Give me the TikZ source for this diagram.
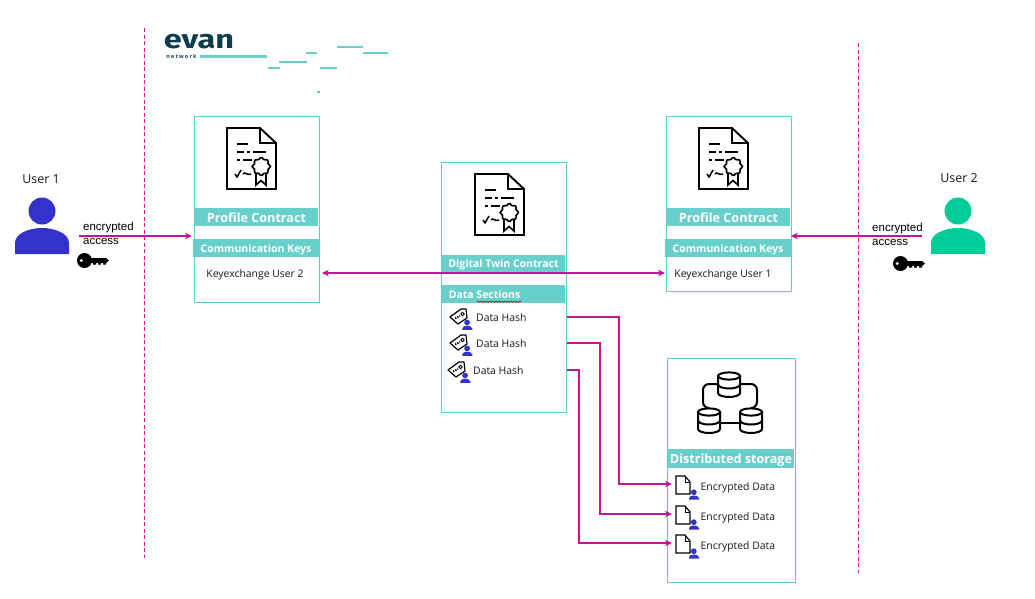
\documentclass[tikz,border=0pt]{standalone}
\usepackage{fontspec}
\setmainfont{Open Sans}
\newfontfamily\arialf{Liberation Sans}
\newfontfamily\logof{Fira Sans}
\usetikzlibrary{arrows.meta,decorations.pathmorphing}
\definecolor{teal}{RGB}{104,208,203}
\definecolor{boxc}{RGB}{96,206,200}
\definecolor{pinkl}{RGB}{198,16,150}
\definecolor{pinkd}{RGB}{226,16,160}
\definecolor{blueu}{RGB}{51,51,204}
\definecolor{greenu}{RGB}{0,204,153}
\definecolor{logoc}{RGB}{15,60,76}
\tikzset{
  x=1pt,y=-1pt,
  card/.style={draw=boxc,line width=.9pt,fill=white,inner sep=0,anchor=north west},
  band/.style={fill=teal,text=white,inner sep=0,font=\bfseries\fontsize{#1}{12}\selectfont,minimum height=18pt,text height={0.714*#1 pt+1pt},text depth=0pt},
  band/.default=12.6,
  lbl/.style={inner sep=0,font=\fontsize{10.4}{12}\selectfont,text=black!90,text height=8.8pt,text depth=0pt},
  ulbl/.style={inner sep=0,font=\fontsize{12.4}{14}\selectfont,text=black!90,text height=10.3pt,text depth=0pt},
  acc/.style={inner sep=0,anchor=west,font=\arialf\fontsize{11.5}{12}\selectfont},
  conn/.style={draw=pinkl,line width=1.5pt,-{Stealth[length=7pt,width=6.5pt]}},
  bound/.style={draw=pinkd,line width=.9pt,dash pattern=on 4pt off 2.5pt},
  dashseg/.style={draw=teal,line width=2.6pt},
  pics/contract/.style={code={
    \begin{scope}[line width=1.9pt,draw=black,line join=miter]
      \draw[fill=white] (0,0) -- (33,0) -- (49,15) -- (49,61) -- (0,61) -- cycle;
      \draw (33,0) -- (33,15) -- (49,15);
      \draw[line width=1.5pt] (10,16) -- (21,16) (10,24) -- (17,24) (20,24) -- (23,24) (26,24) -- (39,24)
        (10,32) -- (13,32) (16,32) -- (25,32);
      \draw[line width=1.5pt] (8,46) -- (10,49) -- (14,42) (16,46) .. controls (18,43) and (20,48) .. (24,46);
      \draw[fill=white,line width=1.6pt] (29,44) -- (29,57) -- (34,52.5) -- (39,57) -- (39,44);
      \draw[fill=white,line width=1.6pt] plot[domain=0:348,samples=30,smooth cycle]
        ({34.3+(8.2+.9*cos(8*\x))*cos(\x)},{38.5+(8.2+.9*cos(8*\x))*sin(\x)});
    \end{scope}}},
  pics/person/.style={code={
    \fill[#1] (4.8,3.2) circle (2.9);
    \fill[#1] (0,10.5) -- (0,9.2) .. controls (0,7.2) and (2.5,6.5) .. (4.8,6.5)
       .. controls (7,6.5) and (10,7.2) .. (10,9.2) -- (10,10.5) -- cycle;}},
  pics/user/.style={code={
    \fill[#1] (27,-17) circle (13.5);
    \fill[#1] (0,26) -- (0,15) .. controls (0,5) and (15,0) .. (27,0)
       .. controls (39,0) and (54,5) .. (54,15) -- (54,26) -- cycle;}},
  pics/tag/.style={code={
    \draw[line width=1.2pt,fill=white,line join=round] (0,8) -- (11,0) -- (16,0) -- (17,9) -- (8,15) -- cycle;
    \draw[line width=.9pt] (12.5,5) circle (1.7);
    \draw[line width=1.7pt,dash pattern=on 1.5pt off 1pt] (5,9.5) -- (10,7);
    \pic at (12.3,10.3) {person=blueu};}},
  pics/doc/.style={code={
    \draw[line width=1.2pt,fill=white] (0,0) -- (9,0) -- (14,6) -- (14,18) -- (0,18) -- cycle;
    \draw[line width=.9pt] (9,0) -- (9,6) -- (14,6);
    \pic at (13,13) {person=blueu};}},
  pics/cyl/.style={code={
    \begin{scope}[line width=2pt,line cap=round]
      \draw[fill=white] (0,4) -- (0,21) arc[start angle=180,end angle=0,x radius=11,y radius=4] -- (22,4);
      \draw[fill=white] (11,4) ellipse[x radius=11,y radius=3.6];
      \draw (0,12.5) arc[start angle=180,end angle=0,x radius=11,y radius=4];
    \end{scope}}},
  pics/keyl/.style={code={
    \fill (7.5,7.5) circle (7.5);
    \fill[white] (4.3,7.5) circle (1.6);
    \fill (12,5) rectangle (29,10);
    \fill (16,9) rectangle (19,11.5) (21,9) rectangle (24,11.5) (26,9) rectangle (29,11.5);
    \fill (29,5) -- (32,7.5) -- (29,10) -- cycle;}},
}
\begin{document}
\begin{tikzpicture}
\useasboundingbox (0,0) rectangle (1035,598);
\fill[white] (0,0) rectangle (1035,598);

% boundaries
\coordinate (b1a) at (144,28); \coordinate (b1b) at (144,558);
\coordinate (b2a) at (858,43); \coordinate (b2b) at (858,573);
\draw[bound] (b1a) -- (b1b);
\draw[bound] (b2a) -- (b2b);

% logo
\node[inner sep=0,text=logoc,xscale=1.25,font=\logof\bfseries\fontsize{26}{26}\selectfont,text height=14pt,text depth=0pt] (logo) at (199,41) {evan};
\node[inner sep=0,text=logoc,font=\bfseries\fontsize{5.4}{5}\selectfont] (net) at (181.5,56.3) {n\kern1.2pt e\kern1.2pt t\kern1.2pt w\kern1.2pt o\kern1.2pt r\kern1.2pt k};
\draw[dashseg] (200,56.5) -- (267,56.5);
\draw[dashseg] (306,53) -- (317,53);
\draw[dashseg] (337,47) -- (363,47);
\draw[dashseg] (363,53) -- (388,53);
\draw[dashseg] (279,62) -- (307,62);
\draw[dashseg] (268,68) -- (280,68);
\draw[dashseg] (320,68) -- (337,68);
\draw[dashseg] (317,92) -- (320,92);

% users
\node[ulbl] (u1) at (41,178.5) {User 1};
\node[ulbl] (u2) at (959,177.5) {User 2};
\pic at (15,228) {user=blueu};
\pic at (931,228) {user=greenu};
\node[acc] (e1) at (83,228) {encrypted};
\node[acc] (a1) at (83,241) {access};
\node[acc] (e2) at (872,229) {encrypted};
\node[acc] (a2) at (872,242) {access};
\pic at (77,253) {keyl};
\pic at (893,256) {keyl};

% cards
\node[card,minimum width=125pt,minimum height=186pt] (p1) at (194,116) {};
\node[card,minimum width=125pt,minimum height=175pt] (p2) at (666,116) {};
\node[card,minimum width=125pt,minimum height=250pt] (mid) at (441,162) {};
\node[card,minimum width=128pt,minimum height=224pt] (st) at (667,358) {};

% profile 1
\pic at (227,128) {contract};
\node[band,minimum width=123pt] (p1t) at (256.5,217) {Profile Contract};
\node[band=10.5,minimum width=126pt] (p1k) at (256,248) {Communication Keys};
\node[lbl] (p1x) at (255,273) {Keyexchange User 2};
% profile 2
\pic at (699,128) {contract};
\node[band,minimum width=123pt] (p2t) at (728.5,217) {Profile Contract};
\node[band=10.5,minimum width=126pt] (p2k) at (728,248) {Communication Keys};
\node[lbl] (p2x) at (723,273) {Keyexchange User 1};
% twin
\pic at (475,174) {contract};
\node[band=10.5,minimum width=123pt] (mt) at (503.5,263.5) {Digital Twin Contract};
\node[band=10.5,minimum width=123pt] (ms) at (503.5,294) {Data Sections\kern38pt};
\draw[draw=red!85!black,line width=.6pt,decorate,decoration={snake,amplitude=.7pt,segment length=3pt}] (477,301.7) -- (521,301.7);
\pic at (450,309) {tag};
\node[lbl,anchor=west] (h1) at (476,317) {Data Hash};
\pic at (450,335) {tag};
\node[lbl,anchor=west] (h2) at (476,343) {Data Hash};
\pic at (448,362) {tag};
\node[lbl,anchor=west] (h3) at (473,370) {Data Hash};

% storage
\coordinate (tc) at (729,384); \coordinate (lc) at (709,408); \coordinate (rc) at (751,408);
\draw[line width=2pt,rounded corners=6pt] (lc) -- (703,408) -- (703,384) -- (tc) -- (757,384) -- (757,408) -- (rc);
\pic at (718,372) {cyl};
\pic at (698,408) {cyl};
\pic at (740,408) {cyl};
\draw[line width=2pt] (720,423) -- (740,423);
\node[band,minimum width=126pt,minimum height=18.5pt] (stt) at (731,458.7) {Distributed storage};
\coordinate (d1) at (672,484); \coordinate (d2) at (672,514); \coordinate (d3) at (672,543);
\pic at (676,476) {doc};
\pic at (676,506) {doc};
\pic at (676,535) {doc};
\node[lbl,anchor=west] (n1) at (700.5,486) {Encrypted Data};
\node[lbl,anchor=west] (n2) at (700.5,516) {Encrypted Data};
\node[lbl,anchor=west] (n3) at (700.5,545) {Encrypted Data};

% connectors
\coordinate (ua) at (79,236); \coordinate (ub) at (922,236);
\draw[conn,shorten >=2pt] (ua) -- (ua -| p1.west);
\draw[conn,shorten >=-1pt] (ub) -- (ub -| p2.east);
\coordinate (kx) at (400,273);
\draw[conn,{Stealth[length=7pt,width=6.5pt]}-{Stealth[length=7pt,width=6.5pt]},shorten <=2pt,shorten >=1pt] (p1.east |- kx) -- (p2.west |- kx);
\coordinate (t1) at (619,400); \coordinate (t2) at (600,400); \coordinate (t3) at (579,400);
\draw[conn] (mid.east |- h1) -| (t1) |- (d1);
\draw[conn] (mid.east |- h2) -| (t2) |- (d2);
\draw[conn] (mid.east |- h3) -| (t3) |- (d3);
\end{tikzpicture}
\end{document}
